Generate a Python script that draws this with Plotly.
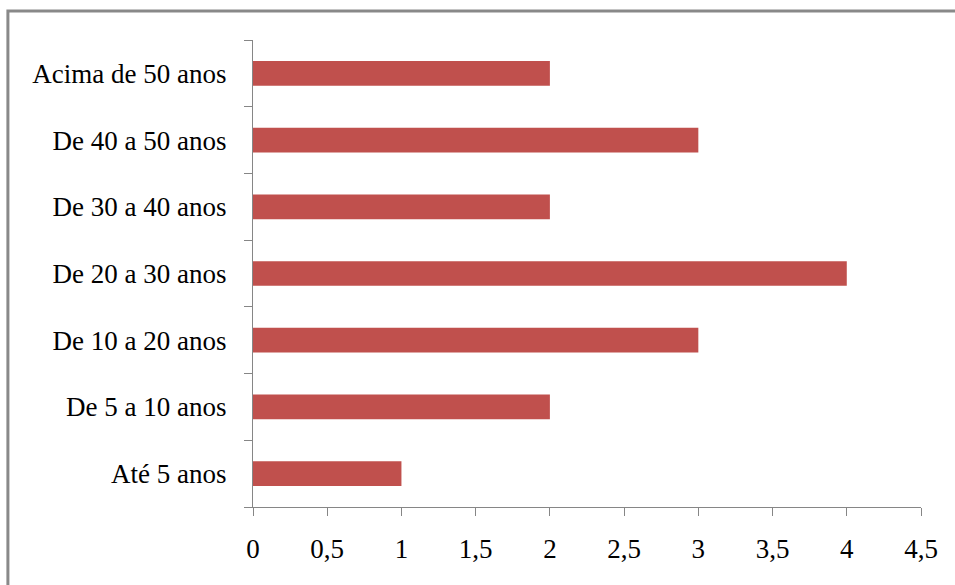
import plotly.graph_objects as go

# Age ranges (bottom to top) and counts
categorias = ["Até 5 anos", "De 5 a 10 anos", "De 10 a 20 anos", "De 20 a 30 anos",
              "De 30 a 40 anos", "De 40 a 50 anos", "Acima de 50 anos"]
valores = [1, 2, 3, 4, 2, 3, 2]
x_ticks = [0, 0.5, 1, 1.5, 2, 2.5, 3, 3.5, 4, 4.5]
x_tick_labels = ["0", "0,5", "1", "1,5", "2", "2,5", "3", "3,5", "4", "4,5"]

W, H = 955, 585
L, R, T, B = 252.7, 34, 40, 78
pw, ph = W - L - R, H - T - B

fig = go.Figure(go.Bar(
    y=categorias, x=valores, orientation="h",
    marker=dict(color="#C0504D", line=dict(width=0)),
    width=0.37,
))

font = dict(family="Liberation Serif, Times New Roman, serif", size=27, color="#000000")
axis_color = "#868686"

fig.update_layout(
    width=W, height=H,
    margin=dict(l=L, r=R, t=T, b=B, pad=0),
    paper_bgcolor="white", plot_bgcolor="white",
    font=font, showlegend=False,
    bargap=0.63,
    xaxis=dict(
        range=[0, 4.5], tickvals=x_ticks, ticktext=x_tick_labels,
        showgrid=False, zeroline=False,
        showline=True, linecolor=axis_color, linewidth=1.3,
        ticks="outside", ticklen=8, tickcolor=axis_color, tickwidth=1.3,
        ticklabelstandoff=9, tickfont=font,
    ),
    yaxis=dict(
        categoryorder="array", categoryarray=categorias,
        range=[-0.5, 6.5],
        showgrid=False, zeroline=False,
        showline=True, linecolor=axis_color, linewidth=1.3,
        ticks="outside", tickson="boundaries", ticklen=8,
        tickcolor=axis_color, tickwidth=1.3,
        ticklabelstandoff=20, tickfont=font,
    ),
)

# Outer chart frame (top and left edges visible, right/bottom run off the page)
def px_to_paper_x(px):
    return (px - L) / pw

def px_to_paper_y(py):
    return (H - B - py) / ph

fig.add_shape(
    type="rect", xref="paper", yref="paper",
    x0=px_to_paper_x(7.5), x1=px_to_paper_x(965),
    y0=px_to_paper_y(600), y1=px_to_paper_y(11),
    line=dict(color="#898989", width=3), fillcolor="rgba(0,0,0,0)",
    layer="below",
)

fig.write_html("out.html")
